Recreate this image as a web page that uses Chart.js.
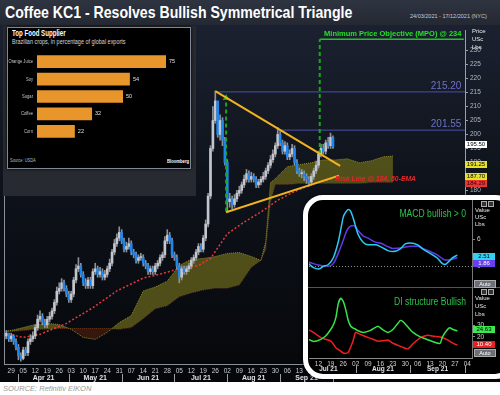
<!DOCTYPE html>
<html>
<head>
<meta charset="utf-8">
<script src="https://cdn.jsdelivr.net/npm/chart.js@4.4.1/dist/chart.umd.min.js"></script>
<style>
  body { margin:0; width:500px; height:395px; overflow:hidden; background:#fff; position:relative; font-family:"Liberation Sans", Arial, sans-serif; }
  .abs { position:absolute; white-space:nowrap; }
  .narrow { transform-origin:0 0; }
  #titlebar { left:0; top:0; width:500px; height:25px; background:linear-gradient(#2f3441,#232833); }
  #title { left:5px; top:3px; color:#fff; font:bold 17px "Liberation Sans",sans-serif; transform:scaleX(0.83); }
  #range { left:410px; top:13px; color:#c8ccd4; font-size:5.5px; }
  #mainwrap { left:0; top:25px; width:500px; height:357px; background:linear-gradient(#1b2130 0%,#0e121a 45%,#05070a 100%); }
  #source { left:3px; top:384px; color:#9a9a9a; font-style:italic; font-size:7.5px; }
  #pricehdr { left:472px; top:27px; color:#e8e8e8; font-size:6px; line-height:8px; }
  .pbox { left:465px; width:22px; height:7px; font-size:6px; line-height:7px; text-align:center; }
  #foodbg { left:3px; top:26px; width:193px; height:170px; background:#272a31; }
  #foodbox { left:7px; top:27px; width:182px; height:140px; background:#000; border:1px solid #7f8896; box-shadow:0 0 3px #000; }
  #frame { left:303px; top:195px; width:212px; height:184px; box-sizing:border-box; border:5px solid #fff; border-radius:20px; background:#000; overflow:hidden; box-shadow:0 0 4px rgba(0,0,0,.6); }
  #frame canvas { position:absolute; }
  .ptitle { color:#2dc24c; font:11px "Liberation Sans",sans-serif; transform-origin:100% 0; transform:scaleX(0.78); text-align:right; width:120px; }
  .units { color:#e8e8e8; font-size:6px; }
  .vbox { left:165px; width:22px; height:7px; font-size:6px; line-height:7px; text-align:center; }
  .auto { left:166px; width:20px; height:6px; font-size:5.5px; line-height:6px; text-align:center; color:#fff; background:#6c6f75; border:1px solid #aaa; }
  .icon { width:4px; height:4px; border:1px solid #aaa; background:#333; }
</style>
</head>
<body>

<div id="titlebar" class="abs"></div>
<div id="title" class="abs narrow">Coffee KC1 - Resolves Bullish Symmetrical Triangle</div>
<div id="range" class="abs">24/03/2021 - 17/12/2021 (NYC)</div>

<div id="mainwrap" class="abs"><canvas id="main" width="500" height="357"></canvas></div>

<div id="pricehdr" class="abs">Price<br>USc<br>Lbs</div>
<div class="abs pbox" style="top:141px;background:#fff;color:#000">195.50</div>
<div class="abs pbox" style="top:161px;background:#e4e02c;color:#000">191.25</div>
<div class="abs pbox" style="top:173px;background:#e4e02c;color:#000">187.70</div>
<div class="abs pbox" style="top:180px;background:#e83636;color:#300">184.29</div>

<div id="foodbg" class="abs"></div>
<div id="foodbox" class="abs"></div>
<div class="abs narrow" style="left:12px;top:28px;color:#fff;font:bold 8.5px 'Liberation Sans',sans-serif;transform:scaleX(0.72)">Top Food Supplier</div>
<div class="abs narrow" style="left:12px;top:38px;color:#d8d8d8;font:6.5px 'Liberation Sans',sans-serif;transform:scaleX(0.84)">Brazilian crops, in percentage of global exports</div>
<canvas id="food" class="abs" style="left:8px;top:53px" width="182" height="87"></canvas>
<div class="abs narrow" style="left:10px;top:157px;color:#bbb;font:5.5px 'Liberation Sans',sans-serif;transform:scaleX(0.72)">Source: USDA</div>
<div class="abs narrow" style="left:167px;top:158px;color:#fff;font:bold 5.5px 'Liberation Sans',sans-serif;transform:scaleX(0.76)">Bloomberg</div>

<div id="frame" class="abs">
  <canvas id="macd" style="left:1px;top:0" width="191" height="87"></canvas>
  <canvas id="di" style="left:1px;top:88px" width="191" height="86"></canvas>
  <div class="abs" style="left:0;top:87px;width:210px;height:1px;background:#555"></div>
  <div class="abs" style="left:164px;top:0;width:1px;height:158px;background:#777"></div>
  <div class="abs ptitle" style="left:38px;top:7px">MACD bullish &gt; 0</div>
  <div class="abs ptitle" style="left:38px;top:95px">DI structure Bullish</div>
  <div class="abs units" style="left:167px;top:7px;line-height:7px">Value<br>USc<br>Lbs</div>
  <div class="abs units" style="left:167px;top:94px;line-height:8px">Value<br>USc<br>Lbs</div>
  <div class="abs vbox" style="top:53px;background:#2fd2f2;color:#000">2.51</div>
  <div class="abs vbox" style="top:60px;background:#6a3ff0;color:#fff">1.86</div>
  <div class="abs vbox" style="top:126px;background:#3be84f;color:#000">24.63</div>
  <div class="abs vbox" style="top:141px;background:#e82020;color:#fff">10.40</div>
  <div class="abs auto" style="top:80px">Auto</div>
  <div class="abs auto" style="top:149px">Auto</div>
  <div class="abs icon" style="left:173px;top:1px"></div>
  <div class="abs icon" style="left:180px;top:1px"></div>
  <div class="abs icon" style="left:173px;top:89px"></div>
  <div class="abs icon" style="left:180px;top:89px"></div>
</div>

<div id="source" class="abs">SOURCE: Refinitiv EIKON</div>

<script>
// ---- main price chart: daily KC1, trading day 0 = Mon 29 Mar 2021
const firstDay  = -3;
const firstOpen = 127;
const closes = [128,129,127,
  128,126,124,121,120, 123,122,126,127,128, 131,134,135,133,132, 134,135,137,140,144,
  145,147,145,143,141, 143,148,152,153,150, 147,146,148,146,151, 152,150,151,149,150,
  152,154,158,161,163, 165,162,159,160,161, 158,157,155,156,156, 154,153,151,152,151,
  153,154,156,157,162, 164,162,157,156,153, 149,152,151,152,153, 155,156,158,160,159,
  163,168,178,195,205, 212,200,205,198,190, 176,177,175,177,179, 180,182,184,186,184,
  185,184,182,183,184, 185,187,189,191,193, 196,200,197,194,196, 192,193,195,190,187,
  186,186,185,184,183, 185,187,189,193,195, 194,197,196,199,195.5];
const highs = [130,130,129,
  129,128.5,127,125,122, 124,124,127,128.5,129.5, 132,135.5,137,136,134, 135,136.5,138,141,145.5,
  147,148.5,148,146,144, 144,149,153.5,156,154, 151,148.5,149,149,152, 154,153,152.5,152,151.5,
  153,155.5,159,162.5,164.5, 167,166,163,161.5,163, 162,159,158,157,157.5, 157,155,154,153,153,
  154,155,157,158,163.5, 166,165,163,158,157, 154,153,153,153,154, 156,157,159,161,161,
  164,169.5,179,196,210, 215.5,211,207,206,199, 191,179,178,178.5,180, 181.5,183,185.5,187.5,187,
  186.5,186,185,184,185, 186.5,188,190,192.5,194.5, 197,202.5,201,198,197.5, 197,194.5,196.5,196,191,
  188,187.5,187,186,185, 186,188,190.5,194,196.5, 196.5,198,199,200.5,199.5];
const lows = [126,127,126,
  126,125,123,119.5,119, 119.5,121,121,125,126, 127,130,133,132,131, 131,133,134,136,139,
  143,144,144,142,140, 140,142,147,151,149, 146,145,145,145,145, 150,149,149,148,148,
  149,151,153,157,160, 162,161,158,158,159, 157,156,154,154,155, 153,152,150,150,150,
  150,152,153,155,156, 161,161,156,155,152, 147,148,150,150,151, 152,154,155,157,158,
  158,162,167,177,194, 204,199,198,196,189, 172.3,174,173.5,174,176, 178,179,181,183,183,
  183,183,181,181,182, 183,184,186,188,190, 192,195,196,193,193, 191,191,192,189,186,
  185,184.5,183.5,182.5,181.5, 182,184,186,188,192, 193,193,195,195,195];

// ichimoku cloud (senkou spans, projected forward) and 50-day EMA
const cloudDays = [-3,0,5,10,15,20,25,30,35,40,45,50,55,60,65,70,75,80,85,90,95,100,104,106,108,110,115,120,125,130,135,140,145,150,155,159];
const spanA = [129.6,130,131,132.1,132.5,132.1,130.4,127.5,126.8,129.3,132.8,135.3,144.1,145.5,147.6,153.2,155.4,155.7,156.4,157.5,157.8,156.4,155,161.7,182.8,184.2,188.5,189.2,189.9,190.9,190.9,191.3,189.9,190.6,192,192.3];
const spanB = [129.3,129.6,130,130.4,130.4,130.7,130.7,130.7,130.7,130.7,130.4,131,134.2,137.7,138.8,142,143.4,144.4,145.1,145.1,146.2,152.5,155,158.9,175.8,182.1,182.1,182.5,182.5,182.5,182.5,182.5,182.5,182.8,182.8,182.8];
const emaDays = [-3,5,12,23,34,44,55,62,69,78,83,90,97,104,111,118,124,134];
const ema50   = [128.9,127.5,128.6,132.5,138.1,144.1,148.7,150.1,151.8,153.2,155.7,164.5,168.7,172.3,176.5,179.6,181.8,184.3];

// pattern annotations, in [day, price]
const triangleUpper = [[85, 215.5], [137, 188.8]];
const triangleLower = [[89.5, 172.2], [136.5, 185.3]];
const heightLine    = [[89.5, 172.5], [89.5, 213]];
const mpoLine       = [[128.5, 193], [128.5, 234]];
const mpo = 234;
const resistance     = [215.20, 201.55];
const resistanceFrom = [85, 111];
const riskLevel = 184;
const lastDay = 189;

const weekLabels  = ['29','05','12','19','26','03','10','17','24','31','07','14','21','28','05','12','19','26','02','09','16','23','30','06','13','20','27','04','11','18','25','01','08','15','22','29','06','13'];
const monthStarts = [3, 24, 46, 68, 90, 112, 134];
const monthNames  = ['Apr 21','May 21','Jun 21','Jul 21','Aug 21','Sep 21'];
const priceTicks  = [180,185,190,195,200,205,210,215,220,225,230];

// bar inset
const supplierCrops = ['Orange Juice','Soy','Sugar','Coffee','Corn'];
const supplierShare = [75, 54, 50, 32, 22];

// MACD / DMI insets
const macdDays   = [71,73,75,77,79,81,83,84,85,86,87,88,89,90,91,93,95,98,100,103,105,108,110,112,115,117,120,123,125,126,127,129,131];
const macdLine   = [0.6,-0.3,-0.6,0,0.4,1.9,5.5,8.2,11.0,12.1,12.7,12.3,10.8,8.9,7.1,5.4,4.8,4.8,4.4,3.5,3.3,3.9,5.0,5.2,4.8,3.9,2.9,1.8,0.6,0.4,0.8,1.9,2.5];
const macdSignal = [1.0,0.6,0.3,0.1,0,0.6,2.9,4.3,5.8,7.4,8.5,9.0,9.1,8.7,8.0,6.8,6.3,5.4,5.2,4.4,4.0,4.1,4.3,4.5,4.5,4.0,3.3,2.5,1.7,1.4,1.4,1.6,1.9];
const diDays  = [71,73,76,78,80,81,82,83,84,85,86,87,88,89,90,91,93,96,99,101,103,105,108,109,111,113,116,119,121,124,125,127,128,129,131];
const diPlus  = [18,16.2,18,21,26.5,30,36,48,52.5,50,43,34,29,27.5,26.5,25.2,23.8,25.5,29,26,23.8,26.2,33.8,33,28.5,24,20,17.7,16.2,14.6,20,26.2,27.7,26.5,25];
const diMinus = [26,23.8,19.5,18,16.5,14,11,9.5,8,6.5,6.2,7,11.5,17,24,23,21.2,18.8,16.5,16.8,17.5,14.7,12.2,11.3,10,14,19.2,21.5,20.8,20,19.5,17.5,16.2,15,13];
const macdTicks = [0, 6];
const diTicks   = [20, 30];

Chart.defaults.font.family = '"Liberation Sans", Arial, sans-serif';

const days  = closes.map((_, k) => firstDay + k);
const opens = closes.map((c, k) => k === 0 ? firstOpen : closes[k - 1]);
const pts   = (xs, ys) => xs.map((x, k) => ({x: x, y: ys[k]}));
const pair  = (p) => p.map(([x, y]) => ({x, y}));
const isDown = (k) => closes[k] < opens[k];

function flatLine(color, width, dash) {
    return {type: 'line', borderColor: color, borderWidth: width, borderDash: dash || [], pointRadius: 0, fill: false};
}

function monthRow(id, offsetY, size) {
    return {
        id: id,
        afterDraw(chart) {
            const {ctx, chartArea, scales: {x}} = chart;
            ctx.save();
            ctx.font = 'bold ' + size + 'px "Liberation Sans", Arial';
            ctx.fillStyle = '#dde0e6';
            ctx.textAlign = 'center';
            ctx.textBaseline = 'middle';
            const yy = chartArea.bottom + offsetY;
            monthNames.forEach((m, k) => {
                const a = x.getPixelForValue(monthStarts[k]), b = x.getPixelForValue(monthStarts[k + 1]);
                ctx.fillText(m, (a + b) / 2, yy);
            });
            ctx.strokeStyle = '#9aa0aa';
            ctx.lineWidth = 1;
            monthStarts.forEach(d => {
                const px = Math.round(x.getPixelForValue(d)) + 0.5;
                ctx.beginPath();
                ctx.moveTo(px, yy - 4);
                ctx.lineTo(px, yy + 4);
                ctx.stroke();
            });
            ctx.restore();
        }
    };
}

const notes = {
    id: 'notes',
    afterDatasetsDraw(chart) {
        const {ctx, chartArea, scales: {x, y}} = chart;
        ctx.save();
        // left frame line
        ctx.strokeStyle = '#8a909a';
        ctx.beginPath();
        ctx.moveTo(chartArea.left + 0.5, chartArea.top);
        ctx.lineTo(chartArea.left + 0.5, chartArea.bottom);
        ctx.stroke();

        ctx.textAlign = 'right';
        ctx.textBaseline = 'bottom';
        ctx.font = '10px "Liberation Sans", Arial';
        ctx.fillStyle = '#6d72c8';
        resistance.forEach(v => ctx.fillText(v.toFixed(2), x.getPixelForValue(187.5), y.getPixelForValue(v) - 1));

        ctx.font = 'bold 7.5px "Liberation Sans", Arial';
        ctx.fillStyle = '#25e025';
        ctx.fillText('Minimum Price Objective (MPO) @ ' + mpo, x.getPixelForValue(187.5), y.getPixelForValue(mpo) - 2);

        ctx.textAlign = 'left';
        ctx.textBaseline = 'middle';
        ctx.font = 'italic bold 6.8px "Liberation Sans", Arial';
        ctx.fillStyle = '#e8262a';
        ctx.fillText('Risk Line @ ' + riskLevel + ', 50-EMA', x.getPixelForValue(135), y.getPixelForValue(riskLevel));
        ctx.restore();
    }
};

new Chart(document.getElementById('main'), {
    type: 'bar',
    data: {
        datasets: [
            Object.assign(flatLine('#f2b41e', 2), {data: pair(triangleUpper)}),
            Object.assign(flatLine('#f2b41e', 2), {data: pair(triangleLower)}),
            Object.assign(flatLine('#19a81c', 2, [4, 3]), {data: pair(heightLine),
                pointRadius: [0, 4], pointStyle: 'triangle', pointBackgroundColor: '#19a81c', pointBorderWidth: 0}),
            Object.assign(flatLine('#19a81c', 2, [4, 3]), {data: pair(mpoLine)}),
            Object.assign(flatLine('#22c422', 1.5), {data: [{x: mpoLine[1][0], y: mpo}, {x: lastDay - 0.5, y: mpo}]}),
            Object.assign(flatLine('#4b50a8', 1), {data: [{x: resistanceFrom[0], y: resistance[0]}, {x: lastDay, y: resistance[0]}]}),
            Object.assign(flatLine('#4b50a8', 1), {data: [{x: resistanceFrom[1], y: resistance[1]}, {x: lastDay, y: resistance[1]}]}),
            {   // candle bodies
                data: days.map((d, k) => ({x: d, y: [opens[k], closes[k]]})),
                backgroundColor: (c) => isDown(c.dataIndex) ? '#1e86ee' : '#c3c6cc',
                barThickness: 2, grouped: false, minBarLength: 1
            },
            {   // wicks
                data: days.map((d, k) => ({x: d, y: [lows[k], highs[k]]})),
                backgroundColor: '#8d9096',
                barThickness: 1, grouped: false
            },
            Object.assign(flatLine('#e8383a', 1.5, [2, 2]), {data: pts(emaDays, ema50)}),
            Object.assign(flatLine('#8e8a2c', 1, [1, 1]), {data: pts(cloudDays, spanA),
                fill: {target: '+1', above: 'rgba(92,90,26,0.85)', below: 'rgba(62,26,14,0.85)'}}),
            Object.assign(flatLine('#7a3418', 1, [1, 1]), {data: pts(cloudDays, spanB)})
        ]
    },
    options: {
        responsive: false,
        animation: false,
        layout: {padding: {left: 3, top: 1}},
        plugins: {legend: {display: false}, tooltip: {enabled: false}},
        scales: {
            x: {
                type: 'linear', min: firstDay, max: lastDay, offset: false,
                grid: {display: false, drawTicks: false},
                border: {color: '#8a909a'},
                afterBuildTicks(s) { s.ticks = weekLabels.map((_, k) => ({value: k * 5})); },
                ticks: {color: '#c8ccd2', font: {size: 6.5}, padding: 3, maxRotation: 0, autoSkip: false,
                        callback: (v) => weekLabels[Math.round(v / 5)]},
                afterFit(s) { s.height = 18; }
            },
            y: {
                position: 'right', min: 118, max: 237,
                afterBuildTicks(s) { s.ticks = priceTicks.map(v => ({value: v})); },
                grid: {drawOnChartArea: false, color: '#9aa0aa', tickLength: 3},
                border: {color: '#9aa0aa'},
                ticks: {color: '#b4b8c0', font: {size: 6.5}, padding: 2},
                afterFit(s) { s.width = 35; }
            }
        }
    },
    plugins: [notes, monthRow('mainMonths', 14, 7)]
});

// ---- Top Food Supplier inset
const barText = {
    id: 'barText',
    afterDatasetsDraw(chart) {
        const {ctx, chartArea, scales: {y}} = chart;
        const meta = chart.getDatasetMeta(0);
        ctx.save();
        ctx.font = '5.5px "Liberation Sans", Arial';
        ctx.textBaseline = 'middle';
        ctx.fillStyle = '#e0e0e0';
        meta.data.forEach((bar, k) => ctx.fillText(supplierShare[k], bar.x + 3, bar.y));
        // category names, condensed
        ctx.fillStyle = '#c4c4c4';
        ctx.textAlign = 'right';
        const right = chartArea.left - 4;
        ctx.translate(right, 0);
        ctx.scale(0.75, 1);
        supplierCrops.forEach((c, k) => ctx.fillText(c, 0, y.getPixelForValue(k)));
        ctx.restore();
    }
};

new Chart(document.getElementById('food'), {
    type: 'bar',
    data: {labels: supplierCrops,
           datasets: [{data: supplierShare, backgroundColor: '#e8952b', barPercentage: 1, categoryPercentage: 0.73}]},
    options: {
        indexAxis: 'y', responsive: false, animation: false,
        layout: {padding: {right: 24}},
        plugins: {legend: {display: false}, tooltip: {enabled: false}},
        scales: {
            x: {display: false, min: 0, max: 75},
            y: {grid: {display: false}, border: {display: false},
                ticks: {display: false},
                afterFit(s) { s.width = 29; }}
        }
    },
    plugins: [barText]
});

// ---- MACD and DI insets
const insetMin = 71.2, insetMax = 136.9;

new Chart(document.getElementById('macd'), {
    type: 'line',
    data: {datasets: [
        {data: pts(macdDays, macdLine), borderColor: '#27ccf2', borderWidth: 1.5, pointRadius: 0, cubicInterpolationMode: 'monotone'},
        {data: pts(macdDays, macdSignal), borderColor: '#6438ea', borderWidth: 1.5, pointRadius: 0, cubicInterpolationMode: 'monotone'}
    ]},
    options: {
        responsive: false, animation: false,
        plugins: {legend: {display: false}, tooltip: {enabled: false}},
        scales: {
            x: {type: 'linear', min: insetMin, max: insetMax, display: false},
            y: {position: 'right', min: -3.3, max: 13.5,
                afterBuildTicks(s) { s.ticks = macdTicks.map(v => ({value: v})); },
                grid: {color: (c) => c.tick && c.tick.value === 0 ? '#8a8a8a' : 'transparent', tickColor: '#8a8a8a', tickLength: 3},
                border: {display: false, dash: [1, 2]},
                ticks: {color: '#d0d0d0', font: {size: 6.5}, padding: 2},
                afterFit(s) { s.width = 28; }}
        }
    }
});

new Chart(document.getElementById('di'), {
    type: 'line',
    data: {datasets: [
        {data: pts(diDays, diPlus), borderColor: '#34e64a', borderWidth: 1.5, pointRadius: 0, tension: 0.2},
        {data: pts(diDays, diMinus), borderColor: '#f01e1e', borderWidth: 1.5, pointRadius: 0, tension: 0.2}
    ]},
    options: {
        responsive: false, animation: false,
        plugins: {legend: {display: false}, tooltip: {enabled: false}},
        scales: {
            x: {type: 'linear', min: insetMin, max: insetMax,
                grid: {display: false, drawTicks: false},
                border: {color: '#8a8a8a'},
                afterBuildTicks(s) {
                    s.ticks = weekLabels.map((_, k) => ({value: k * 5})).filter(t => t.value >= s.min && t.value <= s.max);
                },
                ticks: {color: '#d0d0d0', font: {size: 6.5}, padding: 2, maxRotation: 0, autoSkip: false,
                        callback: (v) => weekLabels[Math.round(v / 5)]},
                afterFit(s) { s.height = 16; }},
            y: {position: 'right', min: 2.3, max: 56.2,
                afterBuildTicks(s) { s.ticks = diTicks.map(v => ({value: v})); },
                grid: {drawOnChartArea: false, color: '#8a8a8a', tickLength: 3},
                border: {display: false},
                ticks: {color: '#d0d0d0', font: {size: 6.5}, padding: 2},
                afterFit(s) { s.width = 28; }}
        }
    },
    plugins: [monthRow('insetMonths', 11, 6.5)]
});
</script>
</body>
</html>
